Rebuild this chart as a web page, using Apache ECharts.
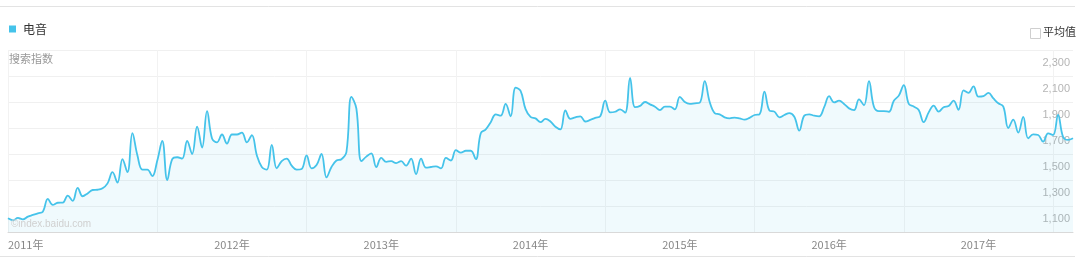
<!DOCTYPE html>
<html>
<head>
<meta charset="utf-8">
<script src="https://cdn.jsdelivr.net/npm/echarts@6/dist/echarts.min.js"></script>
<style>
html,body{margin:0;padding:0;background:#fff;}
#chart{width:1080px;height:258px;}
</style>
</head>
<body>
<div id="chart"></div>
<script>
// 搜索指数 (电音), evenly spaced samples from 2011 to 2017
const searchIndex = [
1105,1090,1108,1097,1118,1131,1144,1156,1255,1208,
1225,1226,1280,1240,1340,1275,1297,1323,1325,1336,
1374,1460,1380,1560,1460,1760,1590,1480,1480,1430,
1550,1700,1400,1560,1575,1565,1700,1600,1810,1650,
1930,1720,1690,1750,1680,1750,1750,1765,1690,1745,
1590,1500,1480,1670,1490,1545,1565,1510,1480,1485,
1590,1490,1515,1600,1420,1500,1550,1560,1615,2040,
1950,1545,1580,1605,1500,1570,1540,1545,1530,1545,
1510,1565,1445,1565,1495,1500,1505,1490,1570,1550,
1630,1610,1625,1625,1560,1760,1790,1845,1905,1895,
1985,1890,2110,2085,1945,1885,1874,1845,1870,1850,
1810,1790,1935,1870,1882,1890,1850,1862,1878,1890,
2010,1920,1925,1944,1918,2185,1960,1970,2000,1982,
1964,1938,1965,1965,1944,2040,2000,1985,1990,1995,
2160,2000,1915,1905,1882,1874,1880,1874,1864,1878,
1900,1905,2080,1935,1926,1882,1900,1915,1887,1780,
1895,1905,1895,1890,1960,2045,1997,2010,1985,1951,
1938,2020,1975,2160,1964,1930,1930,1925,2010,2049,
2130,1985,1965,1938,1845,1920,1972,1926,1960,1969,
2010,1940,2090,2070,2120,2041,2045,2070,2028,1990,
1965,1800,1865,1765,1885,1720,1751,1746,1695,1759,
1746,1900,1733,1708,1721
];
const categories = searchIndex.map((_, i) => 'W' + (i + 1));
const xTickLabels = ['2011年','2012年','2013年','2014年','2015年','2016年','2017年'];
const xTickIndex = [0, 45, 75, 105, 135, 165, 195];
const yTickValues = [1100, 1300, 1500, 1700, 1900, 2100, 2300];
const seriesName = '电音';

const chart = echarts.init(document.getElementById('chart'), null, {renderer: 'canvas'});
const lineColor = '#45c3ea';
chart.setOption({
  animation: false,
  backgroundColor: '#fff',
  grid: {left: 8, right: 7, top: 50, bottom: 26, containLabel: false},
  legend: {
    data: [seriesName], left: 4, top: 18, icon: 'rect', itemWidth: 7, itemHeight: 7, itemGap: 5,
    textStyle: {fontSize: 12, color: '#333', fontFamily: 'Noto Sans CJK SC', padding: [0, 0, 0, 2]}
  },
  xAxis: {
    type: 'category', data: categories, boundaryGap: false,
    axisLine: {lineStyle: {color: '#d9d9d9'}},
    axisTick: {show: false},
    axisLabel: {
      interval: (idx) => xTickIndex.includes(idx),
      formatter: (v, idx) => { const k = xTickIndex.indexOf(idx); return k >= 0 ? xTickLabels[k] : ''; },
      color: '#888', fontSize: 11, margin: 7, fontFamily: 'Noto Sans CJK SC',
      alignMinLabel: 'left'
    },
    splitLine: {show: true, interval: 29, lineStyle: {color: '#f2f2f2', width: 1}}
  },
  yAxis: {
    type: 'value', position: 'right', min: 1000, max: 2400, interval: 100,
    axisLine: {show: false}, axisTick: {show: false},
    axisLabel: {
      inside: true, margin: 3, color: '#b5b5b5', fontSize: 11, fontFamily: 'Liberation Sans',
      formatter: (v) => yTickValues.includes(v) ? v.toLocaleString('en-US') : ''
    },
    splitLine: {show: true, lineStyle: {color: ['#f0f0f0', 'rgba(0,0,0,0)'], width: 1}}
  },
  series: [{
    name: seriesName, type: 'line', data: searchIndex, smooth: 0.4, symbol: 'none',
    lineStyle: {color: lineColor, width: 1.8},
    itemStyle: {color: lineColor},
    areaStyle: {color: 'rgba(69,195,234,0.11)'}, z: 3
  }],
  graphic: [
    {type: 'line', shape: {x1: 0, y1: 6.5, x2: 1075, y2: 6.5}, style: {stroke: '#e3e3e3', lineWidth: 1}},
    {type: 'line', shape: {x1: 0, y1: 256.5, x2: 1075, y2: 256.5}, style: {stroke: '#e3e3e3', lineWidth: 1}},
    {type: 'text', left: 9, top: 53, style: {text: '搜索指数', fill: '#999', font: '11px "Noto Sans CJK SC"'}},
    {type: 'rect', shape: {x: 1030.5, y: 28.5, width: 10, height: 10}, style: {fill: '#fff', stroke: '#cfcfcf', lineWidth: 1}},
    {type: 'text', left: 1043, top: 26, style: {text: '平均值', fill: '#333', font: '11px "Noto Sans CJK SC"'}},
    {type: 'text', left: 11, top: 219, z: 10, style: {text: '©index.baidu.com', fill: '#d0d0d0', font: '10px "Liberation Sans"'}}
  ]
});
</script>
</body>
</html>
